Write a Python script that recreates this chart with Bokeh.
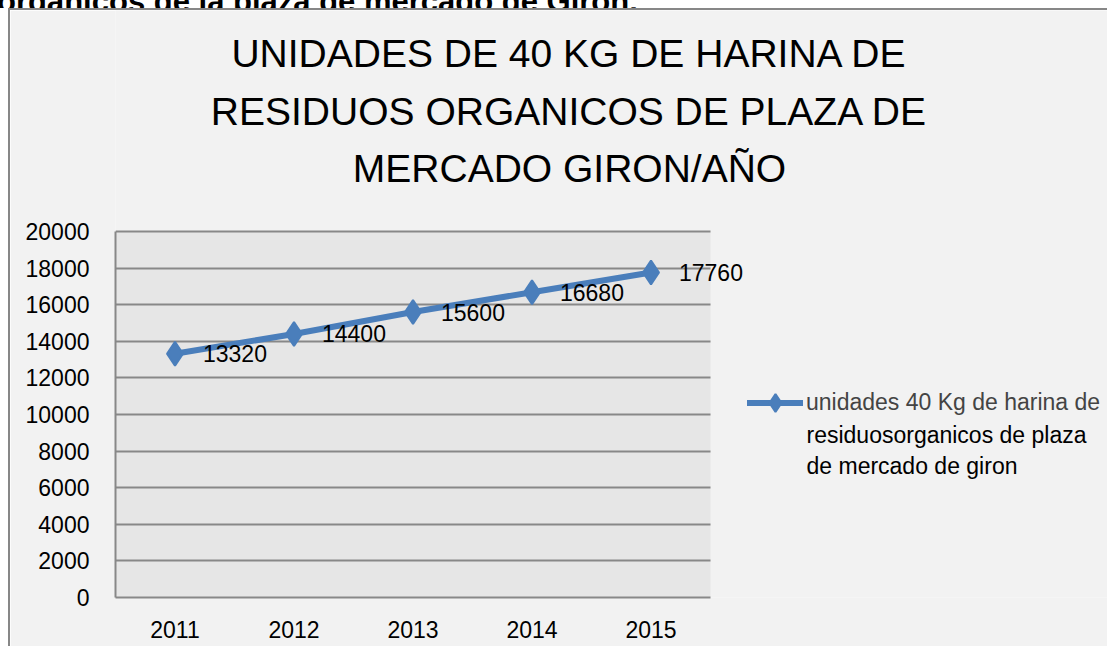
from bokeh.plotting import figure
from bokeh.models import (Range1d, FixedTicker, Label, Legend, LegendItem,
                          ColumnDataSource, BoxAnnotation, Div, Spacer)
from bokeh.layouts import column, row
from bokeh.core.properties import value
from bokeh.embed import file_html
from bokeh.resources import INLINE

# ---- data ----
years = ["2011", "2012", "2013", "2014", "2015"]
units = [13320, 14400, 15600, 16680, 17760]
point_labels = ["13320", "14400", "15600", "16680", "17760"]
y_ticks = [0, 2000, 4000, 6000, 8000, 10000, 12000, 14000, 16000, 18000, 20000]
y_max = 20000
title_lines = ["UNIDADES DE 40 KG DE HARINA DE",
               "RESIDUOS ORGANICOS DE PLAZA DE",
               "MERCADO GIRON/AÑO"]
legend_lines = ["unidades 40 Kg de harina de",
                "residuosorganicos de plaza",
                "de mercado de giron"]
heading = "orgánicos de la plaza de mercado de Girón."

# ---- layout constants (pixels) ----
W, H = 1099, 638            # canvas
FRAME_L, FRAME_B = 105, 51  # borders
PLOT_W, PLOT_H = 595, 366   # grey plot area
frame_w = W - FRAME_L
frame_h = H - FRAME_B
n = len(years)
xs = list(range(1, n + 1))
px_per_cat = PLOT_W / n
x_end = 0.5 + frame_w / px_per_cat
y_end = y_max * frame_h / PLOT_H

LINE_COLOR = "#4a7ebb"
GRID = "#888888"
FONT = "Liberation Sans"

p = figure(width=W, height=H, x_range=Range1d(0.5, x_end),
           y_range=Range1d(0, y_end), output_backend="svg", toolbar_location=None,
           min_border_left=FRAME_L, min_border_top=0, min_border_right=0,
           min_border_bottom=FRAME_B)
p.styles = {"border-left": "2px solid #878787", "border-top": "2px solid #878787"}

p.background_fill_color = "#f2f2f2"
p.border_fill_color = "#f2f2f2"
p.outline_line_color = None

# grey plot area
p.add_layout(BoxAnnotation(left=0.5, right=n + 0.5, bottom=0, top=y_max,
                           fill_color="#e6e6e6", fill_alpha=1, line_color=None,
                           level="image"))

src = ColumnDataSource(dict(x=xs, y=units, lab=point_labels))
ln = p.line("x", "y", source=src, line_color=LINE_COLOR, line_width=6,
            line_cap="round", line_join="round")
mk = p.scatter("x", "y", source=src, marker="diamond", size=24,
               fill_color=LINE_COLOR, line_color=LINE_COLOR, line_width=2)
p.text("x", "y", text="lab", source=src, x_offset=28, text_align="left",
       text_baseline="middle", text_font=value(FONT), text_font_size="23px",
       text_color="black")

# axes
p.yaxis.ticker = FixedTicker(ticks=y_ticks)
p.yaxis.bounds = (0, y_max)
p.xaxis.ticker = FixedTicker(ticks=xs)
p.xaxis.major_label_overrides = {x: y for x, y in zip(xs, years)}
p.xaxis.bounds = (0.5, n + 0.5)
for ax in (p.xaxis[0], p.yaxis[0]):
    ax.axis_line_color = GRID
    ax.axis_line_width = 2
    ax.major_tick_line_color = None
    ax.minor_tick_line_color = None
    ax.major_label_text_font = FONT
    ax.major_label_text_font_size = "23px"
    ax.major_label_text_color = "black"
p.yaxis.major_label_standoff = 20
p.xaxis.major_label_standoff = 17

p.xgrid.grid_line_color = None
p.ygrid.grid_line_color = GRID
p.ygrid.grid_line_width = 2
p.ygrid.cross_bounds = (0.5, n + 0.5)
p.ygrid.level = "underlay"

# title
title_y = [544, 486, 429]
for t, yy in zip(title_lines, title_y):
    p.add_layout(Label(x=454, y=yy, x_units="screen", y_units="screen", text=t,
                       text_align="center", text_baseline="middle",
                       text_font=FONT, text_font_size="39px",
                       text_color="black"))

# legend (first line is the legend label, the wrapped lines follow below it)
legend = Legend(items=[LegendItem(label=legend_lines[0], renderers=[ln, mk])],
                location=(632, 172), glyph_width=56, glyph_height=45,
                label_standoff=3, label_text_font=FONT,
                label_text_font_size="23px", padding=0, margin=0,
                border_line_color=None, background_fill_alpha=0)
p.add_layout(legend, "center")
for t, yy in zip(legend_lines[1:], [163, 132]):
    p.add_layout(Label(x=691, y=yy, x_units="screen", y_units="screen", text=t,
                       text_align="left", text_baseline="middle",
                       text_font=FONT, text_font_size="23px",
                       text_color="black"))

head = Div(text=('<div style="margin-top:-22px;margin-left:-3px;white-space:nowrap;'
                 'font:bold 31px \'Liberation Sans\';line-height:31px;color:black">'
                 + heading + '</div>'),
           width=1109, height=8, margin=(0, 0, 0, 0),
           styles={"overflow": "hidden"})

layout = column(head, row(Spacer(width=8, height=H + 2), p))

open("out.html", "w").write(file_html(layout, INLINE))
